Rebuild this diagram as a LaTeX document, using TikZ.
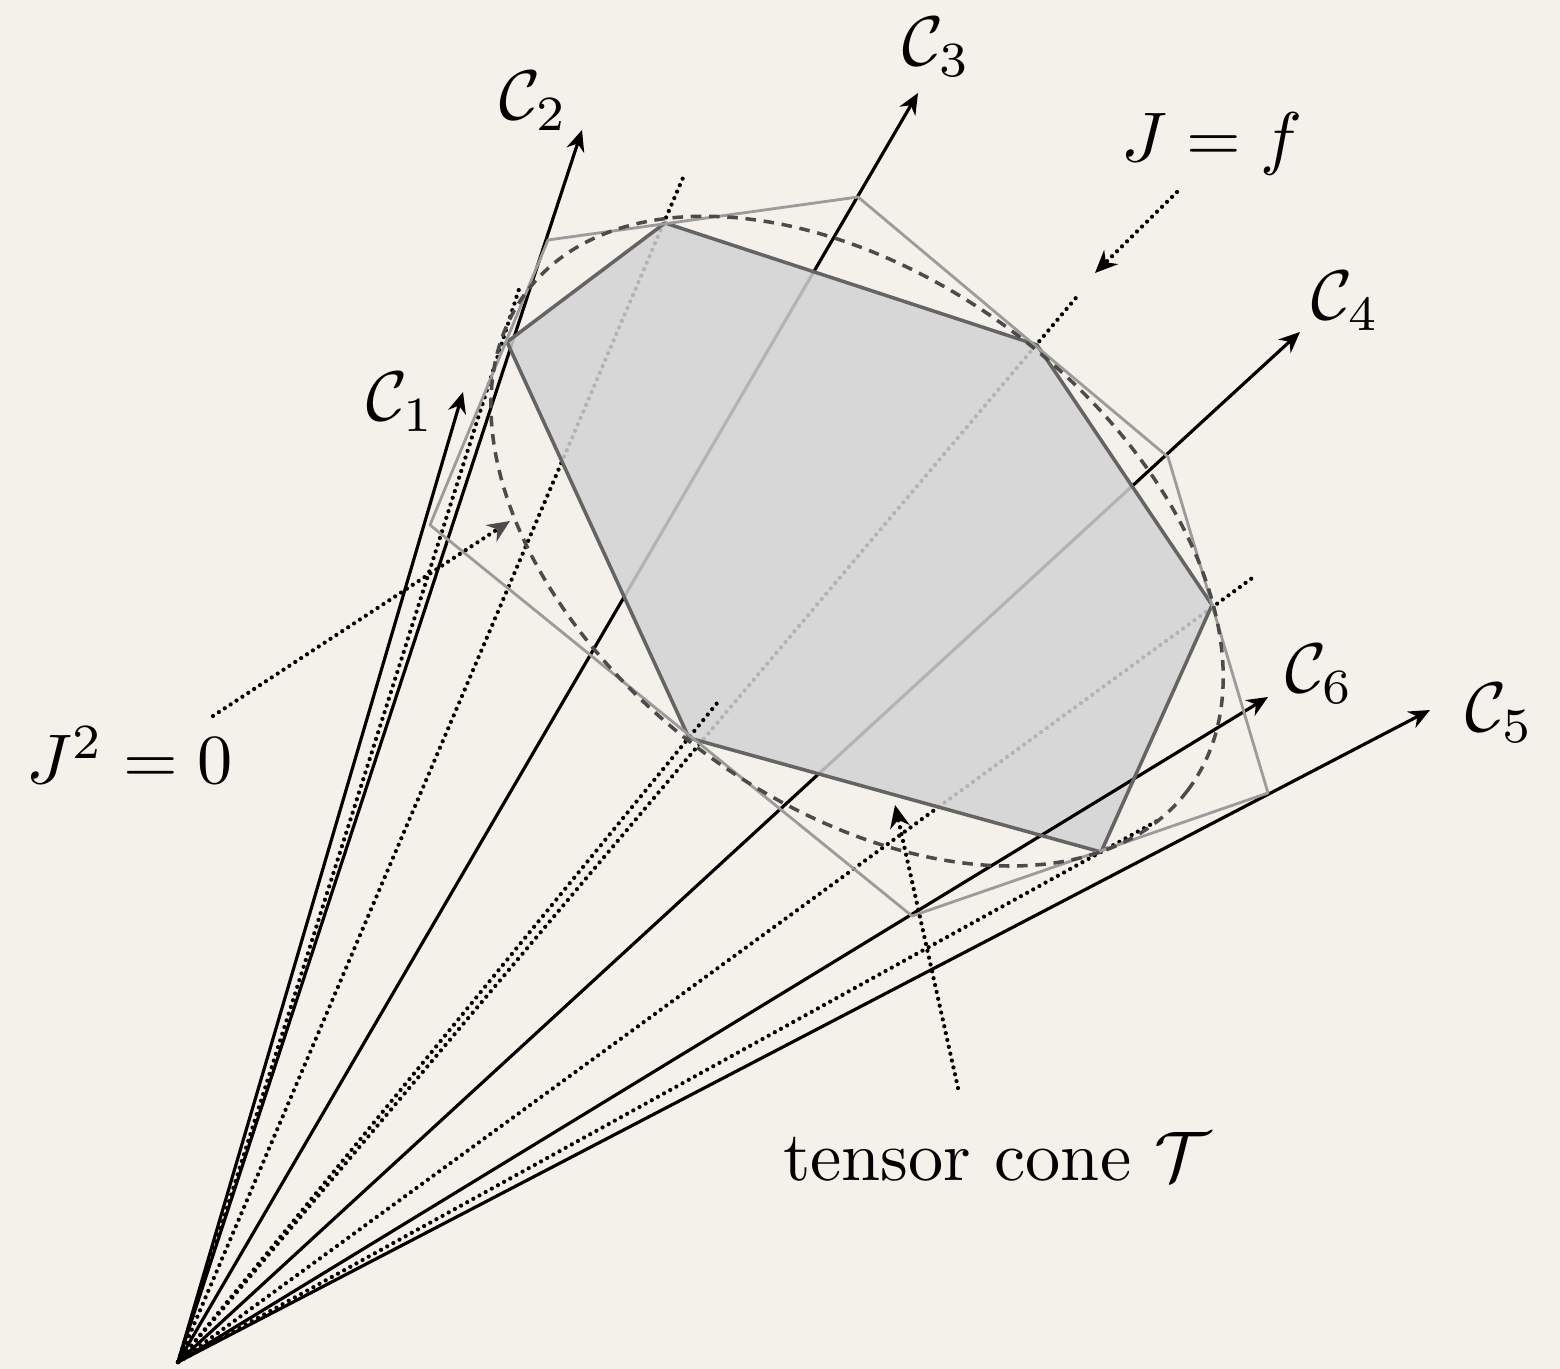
\documentclass[tikz,border=0pt]{standalone}
\usepackage{tikz}
\usetikzlibrary{arrows.meta}
\definecolor{bgc}{RGB}{244,240,234}
\definecolor{conec}{RGB}{211,211,212}
\definecolor{hullc}{RGB}{100,100,100}
\definecolor{tangc}{RGB}{155,155,155}
\definecolor{conicc}{RGB}{75,75,75}
\tikzset{
  arr/.style={-{Stealth[length=3pt, width=2.6pt]}, line width=0.45pt, draw=black},
  dotray/.style={line width=0.6pt, line cap=round, dash pattern=on 0pt off 1pt, draw=black},
  conefill/.style={fill=conec, fill opacity=0.85, draw=none},
  hull/.style={line width=0.5pt, draw=hullc, line join=round},
  tang/.style={thin, draw=tangc, line join=round},
  conic/.style={line width=0.5pt, draw=conicc, dash pattern=on 1.5pt off 1.1pt},
  ptr/.style={dotray, -{Stealth[length=3.2pt, width=2.8pt]}},
  lbl/.style={font=\normalsize, text=black, inner sep=1pt},
}

\begin{document}
\begin{tikzpicture}[x=0.05mm, y=-0.05mm]
  \fill[bgc] (0,0) rectangle (1560,1369);
  \useasboundingbox (0,0) rectangle (1560,1369);

  % apex, points on the conic, tangent hexagon
  \coordinate (O) at (178,1362);
  \coordinate (p1) at (507,342);
  \coordinate (p2) at (665,223);
  \coordinate (p3) at (1037,345);
  \coordinate (p4) at (1212,605);
  \coordinate (p5) at (1101,852);
  \coordinate (p6) at (689,738);
  \coordinate (q1) at (548,240);
  \coordinate (q2) at (858,197);
  \coordinate (q3) at (1168,457);
  \coordinate (q4) at (1268,793);
  \coordinate (q5) at (912,916);
  \coordinate (q6) at (430,525);
  \coordinate (E) at (857,541);

  % ends of the rays
  \coordinate (c1) at (463,392);
  \coordinate (c2) at (582,130);
  \coordinate (c3) at (918,93);
  \coordinate (c4) at (1300,332);
  \coordinate (c5) at (1430,710);
  \coordinate (c6) at (1268,697);
  \coordinate (d1) at (520,286);
  \coordinate (d2) at (685,173);
  \coordinate (d3) at (1080,293);
  \coordinate (d4) at (1255,576);
  \coordinate (d5) at (1157,821);
  \coordinate (d6) at (718,702);

  % rays behind the cone
  \foreach \i in {1,...,5} \draw[arr] (O) -- (c\i);
  \foreach \i in {1,...,5} \draw[dotray] (O) -- (d\i);

  \fill[conefill] (p1) -- (p2) -- (p3) -- (p4) -- (p5) -- (p6) -- cycle;

  \draw[arr] (O) -- (c6);
  \draw[dotray] (O) -- (d6);

  \draw[hull] (p1) -- (p2) -- (p3) -- (p4) -- (p5) -- (p6) -- cycle;
  \draw[tang] (q1) -- (q2) -- (q3) -- (q4) -- (q5) -- (q6) -- cycle;
  \draw[conic, rotate around={-37:(E)}] (E) ellipse [x radius=414, y radius=261];

  % labels
  \node[lbl] (lc1) at (401,402) {$\mathcal{C}_1$};
  \node[lbl] (lc2) at (534,101) {$\mathcal{C}_2$};
  \node[lbl] (lc3) at (937,47) {$\mathcal{C}_3$};
  \node[lbl] (lc4) at (1346,301) {$\mathcal{C}_4$};
  \node[lbl] (lc5) at (1500,713) {$\mathcal{C}_5$};
  \node[lbl] (lc6) at (1320,674) {$\mathcal{C}_6$};
  \node[lbl] (ljf) at (1212,144) {$J = f$};
  \node[lbl] (ljz) at (130,755) {$J^2 = 0$};
  \node[lbl] (lcone) at (997,1157) {tensor cone $\mathcal{T}$};

  \coordinate (s1) at (1177,192);
  \coordinate (t1) at (1095,273);
  \coordinate (s2) at (213,716);
  \coordinate (t2) at (510,521);
  \coordinate (s3) at (958,1088);
  \coordinate (t3) at (895,805);
  \draw[ptr] (s1) -- (t1);
  \draw[dotray, -{Stealth[length=3.2pt, width=2.8pt, color=black!70]}] (s2) -- (t2);
  \draw[ptr] (s3) -- (t3);
\end{tikzpicture}
\end{document}
